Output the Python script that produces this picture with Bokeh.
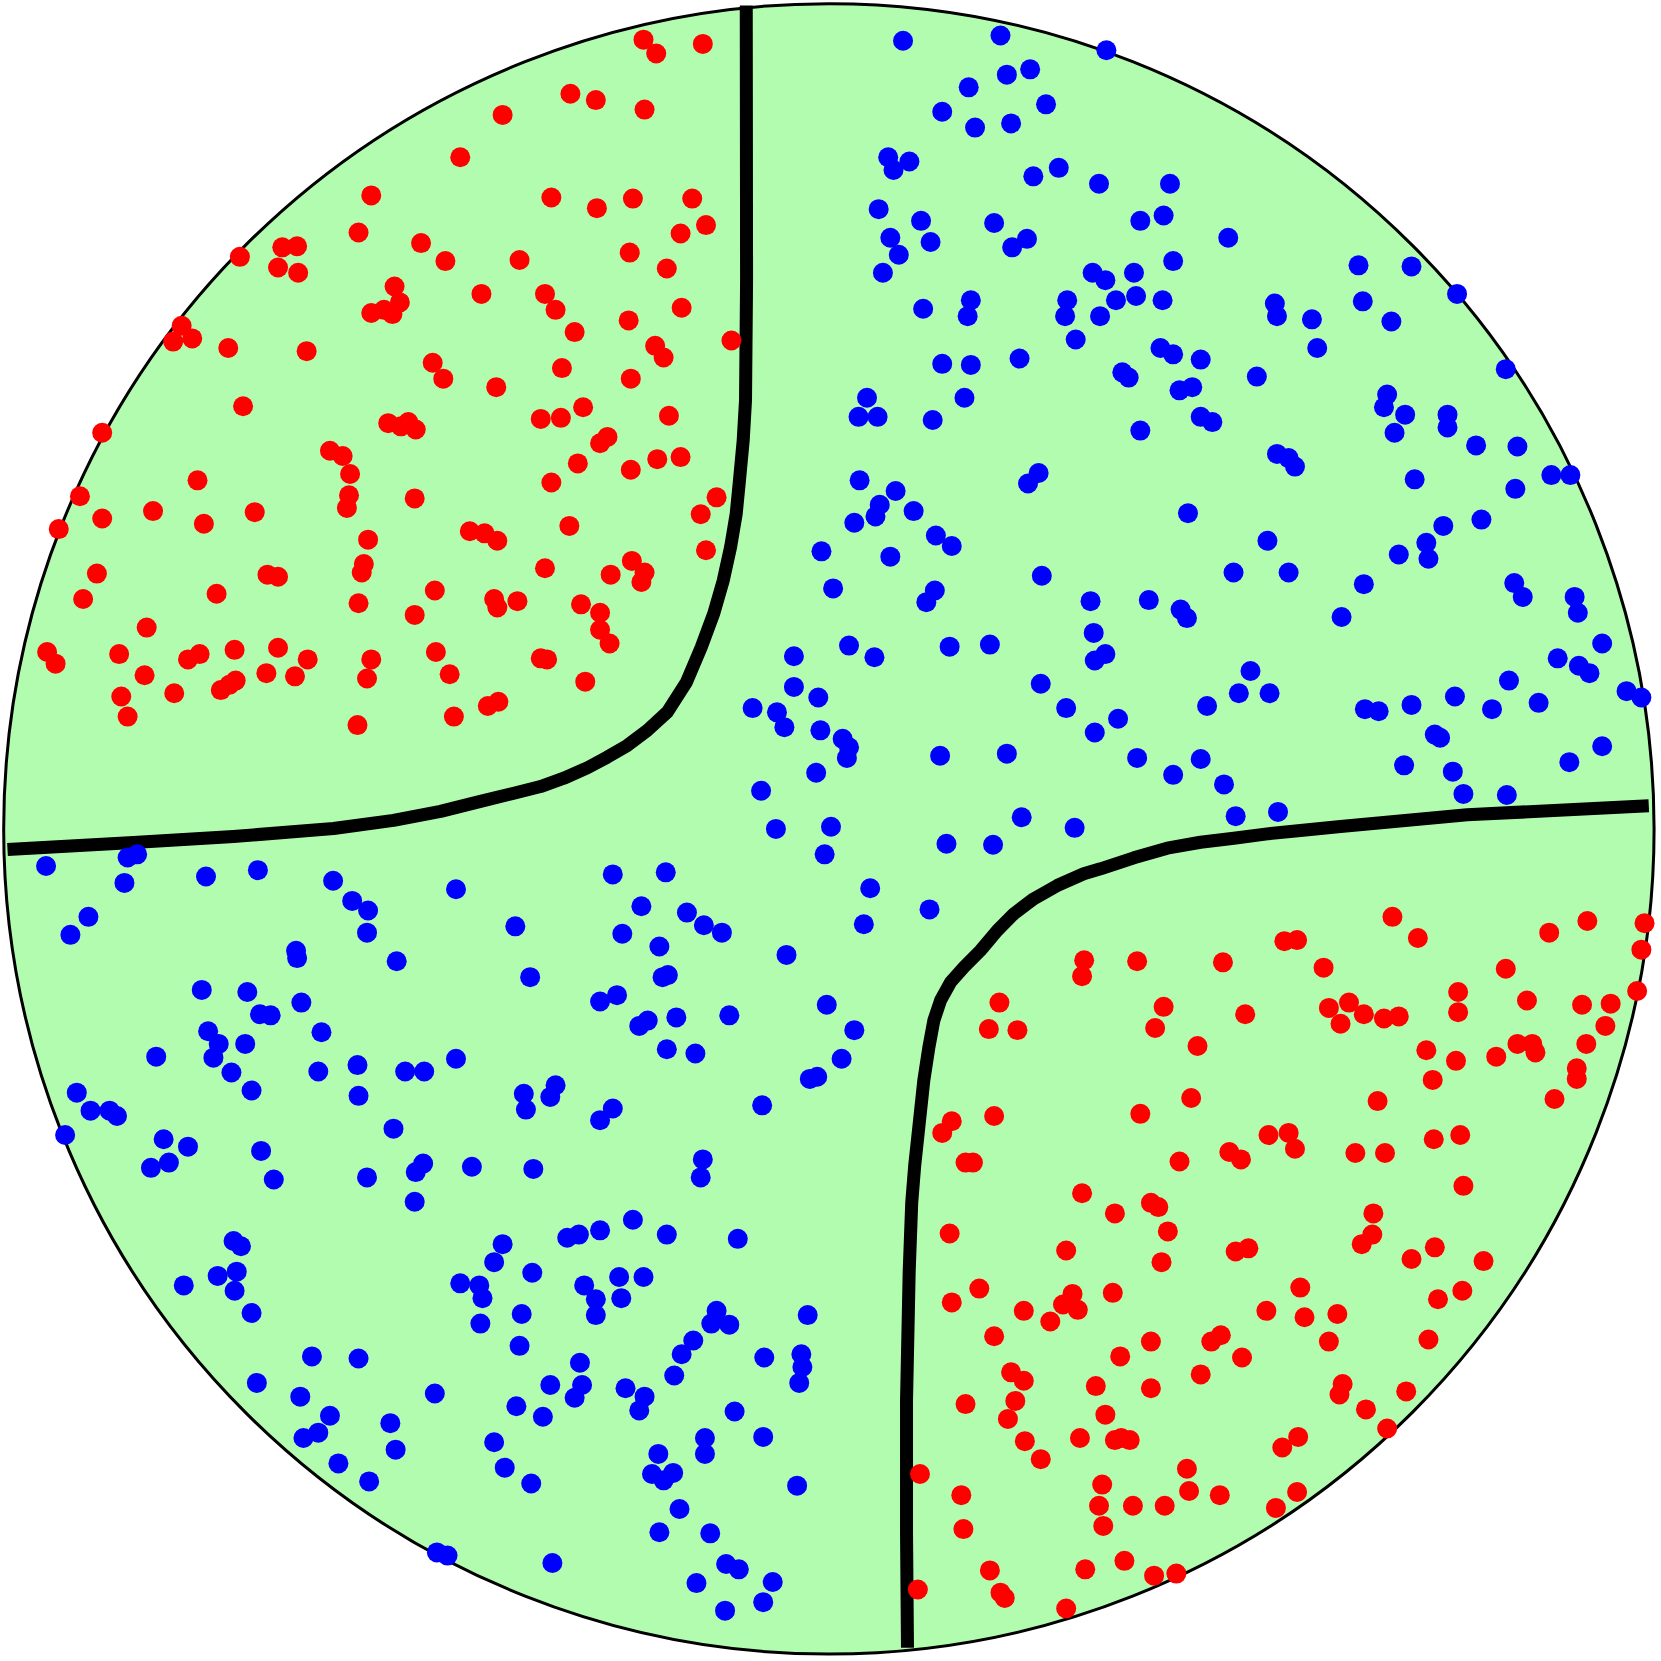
from bokeh.plotting import figure
from bokeh.models import Range1d
from bokeh.embed import file_html
from bokeh.resources import INLINE

# Disc (data units, y grows downward)
disc_cx, disc_cy, disc_r = 782, 782, 779

# Class A (red) samples
red_points = [
(607,37),(619,50),(663,41),(538,88),(562,94),(608,103),(474,108),(434,148),
(350,184),(520,186),(563,196),(597,187),(653,187),(338,219),(397,229),(642,220),(666,212),
(226,242),(266,233),(280,232),(262,252),(281,257),(420,246),(490,245),(594,238),(629,253),
(372,270),(377,285),(362,292),(350,295),(370,296),(454,277),(514,277),(524,292),(593,302),(643,290),
(171,307),(163,322),(181,319),(215,328),(289,331),(542,313),(618,326),(626,337),(690,321),
(408,342),(418,357),(468,365),(530,347),(595,357),
(96,408),(229,383),(366,399),(378,402),(385,398),(392,405),(510,395),(529,394),(550,384),(631,392),
(311,425),(323,430),(330,447),(573,412),(566,418),(545,437),(520,455),(595,443),(620,433),(642,431),
(75,468),(186,453),(329,467),(327,479),(391,470),(676,469),(661,485),
(55,499),(96,489),(144,482),(192,494),(240,483),(443,501),(457,503),(469,510),(537,496),
(347,509),(666,519),
(91,541),(252,542),(262,544),(343,532),(341,540),(514,536),(576,542),(596,529),(608,540),(605,549),
(78,565),(204,560),(338,569),(410,557),(466,565),(469,573),(488,567),(548,570),(566,578),
(138,592),(391,580),(566,594),(575,607),
(44,615),(52,626),(112,617),(177,622),(188,617),(221,613),(262,611),(290,622),(350,622),(411,615),(510,621),(516,622),
(136,637),(208,651),(216,646),(222,642),(251,635),(278,638),(346,640),(424,636),(552,643),
(114,657),(164,654),(120,676),(428,676),(460,666),(470,662),(337,684),
(1314,865),(1338,885),(1498,869),(1552,871),(1549,896),(1462,880),(1212,888),(1224,887),
(1023,906),(1021,921),(1073,907),(1154,908),(1249,913),(1421,914),
(943,946),(1098,950),(1175,957),(1254,951),(1273,946),(1287,957),(1265,966),(1306,961),(1320,959),
(1376,936),(1376,955),(1441,944),(1493,948),(1520,947),(1545,935),
(933,971),(960,972),(1090,970),(1130,987),(1346,991),(1374,1001),(1412,997),(1432,985),(1446,985),
(1449,993),(1497,985),(1515,968),(1352,1019),(1488,1008),(1488,1018),(1467,1037),
(1124,1036),(1300,1039),(1076,1051),(938,1053),(898,1058),(889,1069),(1197,1071),(1216,1069),
(1222,1084),(1160,1087),(1171,1094),(1279,1088),(1307,1088),(1353,1075),(1378,1071),(1113,1096),(911,1097),(918,1097),
(1381,1119),(1021,1126),(1052,1145),(1086,1135),(1093,1139),(1296,1145),(1295,1165),(1285,1174),
(1102,1162),(1096,1191),(1166,1181),(1178,1178),(1332,1188),(1354,1177),(1400,1190),(896,1164),(1006,1180),
(924,1216),(898,1229),(1050,1220),(1012,1221),(1003,1231),(1017,1236),(966,1237),(991,1247),(938,1261),
(1195,1237),(1227,1215),(1231,1243),(1262,1240),(1357,1226),(1380,1218),(1086,1266),(1143,1266),(1152,1260),(1254,1266),(1348,1264),
(1057,1280),(1172,1281),(954,1295),(966,1303),(911,1325),(958,1322),(951,1339),(1034,1308),(1086,1310),
(1133,1297),(1267,1306),(1264,1316),(1289,1330),(1327,1313),
(1043,1335),(1058,1357),(1052,1359),(1066,1359),(1019,1357),(967,1360),(982,1377),(1309,1348),(1225,1356),(1210,1366),(1120,1386),(868,1391),
(907,1411),(909,1443),(1040,1401),(1037,1421),(1069,1421),(1099,1421),(1122,1407),(1151,1411),(1204,1423),(1224,1408),(1041,1440),
(934,1482),(1024,1481),(1061,1473),(1089,1487),(1110,1485),(944,1503),(948,1508),(866,1500),(1006,1518),
]

# Class B (blue) samples
blue_points = [
(852,38),(944,33),(1044,47),(950,70),(972,65),(914,82),(889,105),(920,120),(954,116),(987,98),
(838,148),(858,152),(843,160),(999,158),(975,166),(1037,173),(1104,173),
(829,197),(869,208),(938,210),(1076,208),(1098,203),(1159,224),
(840,224),(848,240),(833,257),(878,228),(955,233),(969,225),(1107,246),(1031,257),(1043,264),(1070,257),(1282,250),(1332,251),
(871,291),(913,298),(916,283),(1007,283),(1005,298),(1053,283),(1038,298),(1072,279),(1097,283),(1203,286),(1205,298),(1286,284),(1238,301),(1313,303),(1375,277),
(1015,320),(1095,328),(1107,334),(1133,339),(1243,328),
(889,343),(916,344),(962,338),(1059,351),(1065,356),(1186,355),(1421,348),
(818,375),(810,393),(828,393),(910,375),(880,396),(1113,368),(1125,365),(1309,372),(1306,384),(1326,391),(1316,408),(1366,391),(1366,403),(1133,393),(1144,398),(1076,406),
(1393,420),(1432,421),(1205,428),(1216,432),(1222,440),(980,446),(970,456),(1335,452),(1430,461),(1464,448),(1482,448),
(811,453),(845,463),(830,476),(826,487),(862,482),(806,493),(883,505),(898,515),(840,525),(1121,484),(1362,496),(1398,490),
(775,520),(786,555),(1196,510),(1346,512),(1320,523),(1348,527),(1164,540),(1216,540),(983,543),
(882,557),(874,568),(1029,567),(1084,566),(1114,575),(1120,583),(1287,551),(1266,582),(1429,550),(1437,563),(1486,563),(1489,578),
(801,609),(825,620),(896,610),(934,608),(1032,597),(1033,623),(1043,617),(1512,607),(1470,621),(1490,628),(1500,635),
(749,619),(749,648),(772,658),(710,668),(733,672),(740,686),(774,689),(795,697),(801,705),(799,715),(982,645),(1180,633),(1169,654),(1198,654),(1424,642),(1535,652),(1549,658),
(1006,668),(1055,678),(1033,691),(1139,666),(1288,669),(1301,671),(1332,665),(1373,657),(1408,669),(1452,663),(1354,693),(1359,696),
(887,713),(950,711),(770,729),(718,746),(1073,715),(1107,731),(1133,716),(1155,740),(1325,722),(1371,728),(1381,749),(1422,750),(1481,719),(1512,704),
(732,782),(784,780),(778,806),(893,796),(937,797),(964,771),(1014,781),(1166,770),(1206,766),
(43,817),(120,809),(129,806),(117,833),(194,827),(243,821),(314,831),(332,850),(347,859),(346,880),(430,839),(578,825),(628,823),(605,855),(648,861),(664,873),(681,880),(587,881),(486,874),(821,838),(815,872),(877,858),
(83,865),(66,882),(279,897),(280,904),(374,907),(622,893),(500,922),(625,922),(630,920),(742,901),
(190,934),(233,936),(284,946),(245,957),(255,958),(566,945),(582,939),(638,960),(688,958),(611,963),(603,968),(780,948),(806,972),
(196,973),(206,985),(231,985),(201,998),(147,997),(303,974),(218,1012),(300,1011),(337,1005),(382,1011),(400,1011),(430,999),(629,990),(656,994),(794,999),
(237,1029),(72,1031),(85,1048),(103,1048),(110,1053),(61,1071),(338,1034),(494,1032),(496,1047),(519,1035),(524,1024),(578,1046),(566,1057),(719,1043),(764,1018),(771,1016),
(154,1075),(177,1082),(159,1097),(142,1102),(246,1086),(258,1113),(371,1065),(346,1111),(399,1098),(392,1106),(391,1134),(445,1101),(503,1103),(663,1094),(661,1111),
(220,1171),(227,1176),(205,1204),(223,1200),(173,1213),(221,1218),(237,1239),(474,1174),(466,1191),(502,1201),(535,1168),(546,1165),(566,1161),(597,1151),(629,1165),(696,1169),
(434,1211),(452,1213),(455,1225),(551,1213),(562,1226),(562,1241),(584,1205),(586,1225),(607,1205),(492,1240),(453,1249),(490,1270),(676,1237),(671,1249),(688,1250),(762,1241),
(294,1280),(338,1282),(242,1305),(283,1318),(311,1336),(300,1352),(286,1357),(319,1381),(348,1398),(368,1343),(373,1368),(410,1315),(466,1361),(476,1385),(501,1400),(487,1327),(512,1337),(519,1307),(547,1286),(549,1307),(542,1319),(590,1310),(603,1331),(608,1318),(636,1298),(643,1278),(654,1265),(721,1281),(756,1278),(757,1290),(754,1305),(693,1332),(665,1357),(665,1372),(720,1356),(752,1402),
(621,1372),(615,1391),(626,1397),(635,1390),(641,1424),(622,1446),(670,1447),(685,1476),(697,1481),(729,1493),(720,1512),(684,1520),(657,1494),(521,1475),(412,1465),(422,1468),
]

# Decision boundary, upper-left branch (traced)
bnd_a_x = [704.0, 704.3, 703.3, 701.1, 697.6, 694.5, 689.2, 682.3, 673.4, 661.5, 647.5, 629.4,
           610.5, 591.6, 572.7, 553.9, 531.8, 509.8, 484.6, 453.1, 415.4, 371.0, 314.4, 220.0,
           125.6, 6.6]
bnd_a_y = [4.7, 264.0, 377.6, 415.4, 453.1, 484.6, 516.1, 547.5, 578.4, 610.5, 643.5, 671.8,
           689.2, 703.3, 714.3, 724.4, 734.2, 742.0, 748.3, 756.0, 765.5, 774.0, 781.6, 789.2,
           794.8, 801.5]
# Decision boundary, lower-right branch (traced)
bnd_b_x = [1556.0, 1384.6, 1265.0, 1227.2, 1195.8, 1164.3, 1132.8, 1101.4, 1069.9, 1038.4,
           1022.6, 997.5, 975.4, 956.6, 940.9, 925.1, 909.4, 896.8, 887.4, 881.1, 876.4, 871.6,
           866.9, 863.0, 860.2, 857.8, 855.3, 855.3, 856.2]
bnd_b_y = [760.2, 768.7, 779.8, 783.5, 786.7, 790.8, 794.6, 800.2, 809.3, 819.7,
           824.4, 835.5, 848.0, 862.2, 878.0, 896.8, 912.6, 926.8, 944.0, 962.8, 988.1, 1019.5,
           1063.6, 1100.0, 1135.0, 1200.0, 1321.6, 1447.0, 1555.0]

red_x = [q[0] for q in red_points]
red_y = [q[1] for q in red_points]
blue_x = [q[0] for q in blue_points]
blue_y = [q[1] for q in blue_points]

p = figure(width=1661, height=1661, output_backend="svg", toolbar_location=None,
           x_range=Range1d(0, 1568), y_range=Range1d(1568, 0),
           min_border=0, outline_line_color=None)
p.axis.visible = False
p.grid.visible = False
p.background_fill_color = "white"
p.border_fill_color = "white"

p.circle(x=[disc_cx], y=[disc_cy], radius=disc_r, fill_color="#b2fcb0",
         line_color="black", line_width=3)
p.line(bnd_a_x, bnd_a_y, line_color="black", line_width=13, line_join="round")
p.line(bnd_b_x, bnd_b_y, line_color="black", line_width=13, line_join="round")
p.scatter(red_x, red_y, size=20, fill_color="#ff0000", line_color=None)
p.scatter(blue_x, blue_y, size=20, fill_color="#0000ff", line_color=None)

open("out.html", "w").write(file_html(p, INLINE))
